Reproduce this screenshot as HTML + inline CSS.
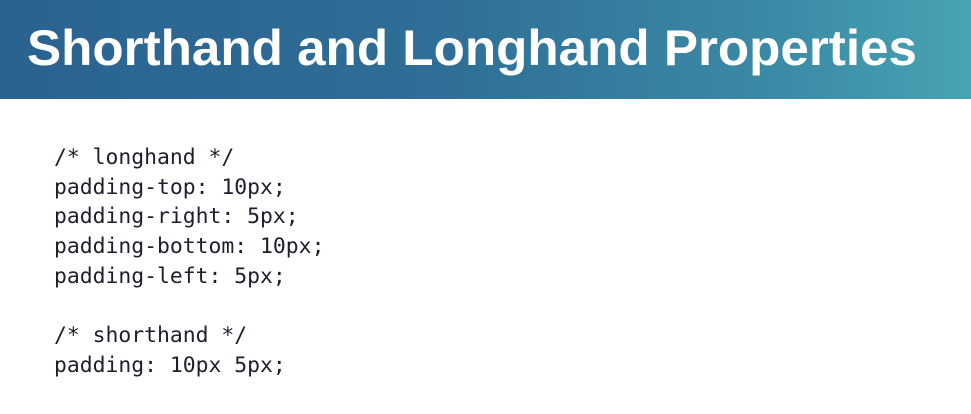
<!DOCTYPE html>
<html><head><style>
body{margin:0;width:971px;height:414px;background:#fff;overflow:hidden}
.hdr{position:absolute;left:0;top:0;width:971px;height:99px;background:linear-gradient(90deg,#2a6290 0%,#2f6e96 45%,#3b8aa6 80%,#48a3b2 100%)}
pre{position:absolute;left:54px;top:143px;margin:0;font-family:"DejaVu Sans Mono","Liberation Mono",monospace;font-size:21.4px;line-height:29.7px;color:#1e1e2c}
</style></head><body>
<div class="hdr"><svg width="971" height="99"><text x="27" y="65" textLength="890" lengthAdjust="spacingAndGlyphs" font-family="Liberation Sans, sans-serif" font-weight="bold" font-size="50" fill="#fff">Shorthand and Longhand Properties</text></svg></div>
<pre>/* longhand */
padding-top: 10px;
padding-right: 5px;
padding-bottom: 10px;
padding-left: 5px;

/* shorthand */
padding: 10px 5px;</pre>
</body></html>
